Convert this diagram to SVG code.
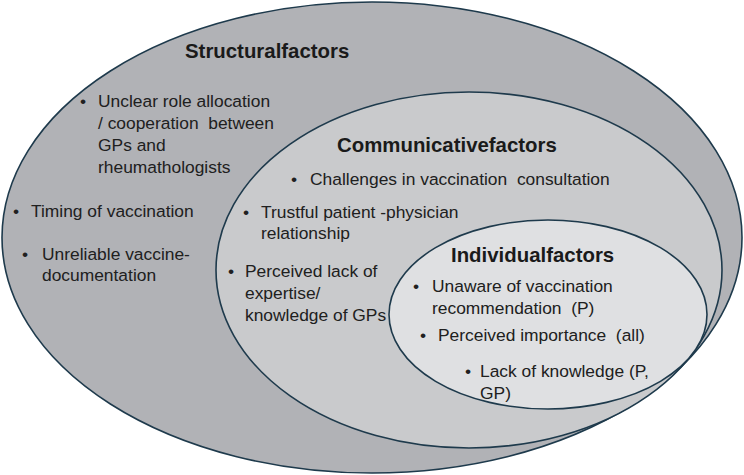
<svg xmlns="http://www.w3.org/2000/svg" width="744" height="475" viewBox="0 0 744 475">
<style>
.ring{stroke:#1e3a4c;stroke-width:1.6}
.outer{fill:#b1b2b6}
.middle{fill:#c9cacc}
.inner{fill:#dfe0e2}
text{font-family:"Liberation Sans",Arial,sans-serif;fill:#202020;white-space:pre}
.h{font-size:20.4px;font-weight:bold;fill:#1a1a1a}
.b{font-size:17.4px}
</style>
<rect width="744" height="475" fill="#ffffff"/>
<g id="structural-factors">
<ellipse class="ring outer" cx="372" cy="237.5" rx="370" ry="235.5"/>
<text class="h" x="185" y="58">Structuralfactors</text>
<text class="b" x="80" y="107">•</text>
<text class="b" x="98" y="107">Unclear role allocation</text>
<text class="b" x="98" y="129">/ cooperation  between</text>
<text class="b" x="98" y="151">GPs and</text>
<text class="b" x="98" y="173">rheumathologists</text>
<text class="b" x="13" y="217">•</text>
<text class="b" x="31" y="217">Timing of vaccination</text>
<text class="b" x="22" y="260">•</text>
<text class="b" x="42" y="260">Unreliable vaccine-</text>
<text class="b" x="42" y="281">documentation</text>
</g>
<g id="communicative-factors">
<ellipse class="ring middle" cx="469" cy="270" rx="253" ry="178"/>
<text class="h" x="337" y="152">Communicativefactors</text>
<text class="b" x="291" y="185">•</text>
<text class="b" x="310" y="185">Challenges in vaccination  consultation</text>
<text class="b" x="243" y="218">•</text>
<text class="b" x="261" y="218">Trustful patient -physician</text>
<text class="b" x="261" y="239">relationship</text>
<text class="b" x="228" y="277">•</text>
<text class="b" x="245" y="277">Perceived lack of</text>
<text class="b" x="245" y="298.5">expertise/</text>
<text class="b" x="245" y="320.5">knowledge of GPs</text>
</g>
<g id="individual-factors">
<ellipse class="ring inner" cx="548" cy="314.5" rx="159" ry="94.5"/>
<text class="h" x="451" y="262">Individualfactors</text>
<text class="b" x="413" y="292">•</text>
<text class="b" x="432" y="292">Unaware of vaccination</text>
<text class="b" x="432" y="313.5">recommendation  (P)</text>
<text class="b" x="420" y="341">•</text>
<text class="b" x="438" y="341">Perceived importance  (all)</text>
<text class="b" x="465" y="377">•</text>
<text class="b" x="480" y="377">Lack of knowledge (P,</text>
<text class="b" x="480" y="398.5">GP)</text>
</g>
</svg>
